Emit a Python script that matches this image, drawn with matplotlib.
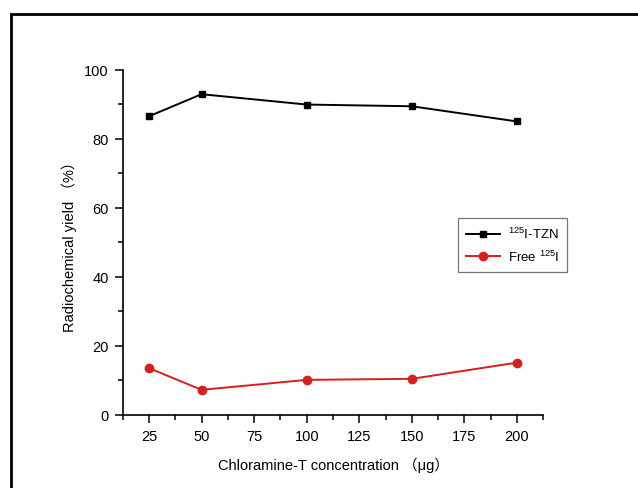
import numpy as np
import matplotlib.pyplot as plt
from matplotlib.patches import Rectangle
from matplotlib.ticker import MultipleLocator

plt.rcParams['font.family'] = ['Liberation Sans', 'Noto Sans CJK SC', 'DejaVu Sans']
plt.rcParams['mathtext.fontset'] = 'custom'
plt.rcParams['mathtext.rm'] = 'Liberation Sans'
plt.rcParams['mathtext.it'] = 'Liberation Sans'

## data
conc = [25, 50, 100, 150, 200]
tzn_yield = [86.5, 92.9, 89.9, 89.4, 85.0]
free_iodine = [13.5, 7.2, 10.1, 10.4, 15.1]

fig = plt.figure(figsize=(6.38, 4.89), dpi=100)
ax = fig.add_axes([0.1923, 0.1499, 0.6593, 0.7055])

ax.plot(conc, tzn_yield, color='black', lw=1.4, marker='s', ms=5,
        label='$^{125}$I-TZN')
ax.plot(conc, free_iodine, color='#d81e1e', lw=1.4, marker='o', ms=6,
        label='Free $^{125}$I')

ax.set_xlim(12.5, 212.5)
ax.set_ylim(0, 100)
ax.xaxis.set_major_locator(MultipleLocator(25))
ax.xaxis.set_minor_locator(MultipleLocator(12.5))
ax.yaxis.set_major_locator(MultipleLocator(20))
ax.yaxis.set_minor_locator(MultipleLocator(10))
ax.set_xticks([25, 50, 75, 100, 125, 150, 175, 200])

for s in ['top', 'right']:
    ax.spines[s].set_visible(False)
for s in ['left', 'bottom']:
    ax.spines[s].set_linewidth(1.2)

ax.tick_params(which='major', direction='out', length=6, width=1.1, labelsize=10.5, pad=4)
ax.tick_params(which='minor', direction='out', length=3.5, width=1.1)

ax.set_xlabel('Chloramine-T concentration （μg）', fontsize=10.5, labelpad=10)
ax.set_ylabel('Radiochemical yield （%）', fontsize=10.5, labelpad=5)

leg = ax.legend(loc='upper left', bbox_to_anchor=(0.797, 0.570), fontsize=9.5,
                fancybox=False, framealpha=1, edgecolor='#777777',
                handlelength=2.6, borderpad=0.6, labelspacing=0.55,
                borderaxespad=0, handletextpad=0.6)
leg.get_frame().set_linewidth(0.9)

## outer frame of the figure (only top and left edges inside the image)
fig.add_artist(Rectangle((10.5 / 638, -0.05), 1.2, 1.05 - 14.5 / 489,
                         transform=fig.transFigure, fill=False,
                         edgecolor='black', lw=2))

fig.savefig('out.png', dpi=100)
